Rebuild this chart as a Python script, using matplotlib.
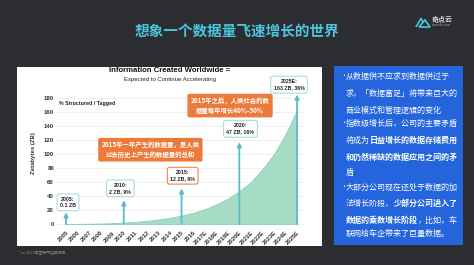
import matplotlib.pyplot as plt
from matplotlib.patches import Rectangle, Polygon

plt.rcParams['font.family'] = ['Noto Sans CJK SC', 'DejaVu Sans']

# 数据
years = ['2005', '2006', '2007', '2008', '2009', '2010', '2011', '2012', '2013',
         '2014', '2015', '2016', '2017E', '2018E', '2019E', '2020E', '2021E',
         '2022E', '2023E', '2024E', '2025E']
zb = [0.1, 0.2, 0.4, 0.7, 1.2, 2, 3, 4.5, 6.5, 9, 12, 16.1, 21, 28, 36, 47,
      60, 78, 100, 128, 163]

mark_years = ['2005', '2010', '2015', '2020E', '2025E']
mark_text = ['2005:\n0.1 ZB', '2010:\n2 ZB, 9%', '2015:\n12 ZB, 9%',
             '2020:\n47 ZB, 16%', '2025E:\n163 ZB, 36%']

note1 = '2015年之后，人类社会的数\n据量每年增长40%-50%'
note2 = '2015年一年产生的数据量，是人类\n过去历史上产生的数据量的总和'

bullets = [
    [('从数据供不应求到数据供过于', False)],
    [('求，「数据富足」将带来巨大的', False)],
    [('商业模式和管理逻辑的变化', False)],
    [('指数级增长后，公司的主要矛盾', False)],
    [('将成为', False), ('日益增长的数据存储费用', True)],
    [('和仍然稀缺的数据应用之间的矛', True)],
    [('盾', False)],
    [('大部分公司现在还处于数据的加', False)],
    [('法增长阶段，', False), ('少部分公司进入了', True)],
    [('数据的乘数增长阶段', True), ('，比如，车', False)],
    [('联网给车企带来了巨量数据。', False)],
]
bullet_rows = [0, 3, 7]

W, H = 474, 265
def fx(px):
    return px / W
def fy(py):
    return 1 - py / H

fig = plt.figure(figsize=(4.74, 2.65), dpi=100)
fig.patch.set_facecolor('#2b2d31')

# 面板
fig.patches.append(Rectangle((fx(17), fy(246)), fx(322) - fx(17), fy(67) - fy(246),
                             transform=fig.transFigure, facecolor='white', edgecolor='none', zorder=-10))
fig.patches.append(Rectangle((fx(334), fy(245)), fx(463) - fx(334), fy(66) - fy(245),
                             transform=fig.transFigure, facecolor='#2464dc', edgecolor='none', zorder=-10))

# 标题
fig.text(0.5, fy(31), '想象一个数据量飞速增长的世界', color='#4cc6dc', fontsize=10.5,
         fontweight='bold', ha='center', va='center')

# logo
fig.patches.append(Polygon([(fx(415), fy(27)), (fx(421), fy(17)), (fx(424), fy(22)),
                            (fx(422), fy(22)), (fx(421), fy(20)), (fx(417), fy(27))],
                           closed=True, transform=fig.transFigure, facecolor='#4cc6dc', edgecolor='none'))
fig.patches.append(Polygon([(fx(419), fy(27)), (fx(425), fy(20)), (fx(430), fy(27))],
                           closed=True, transform=fig.transFigure, facecolor='none',
                           edgecolor='#4cc6dc', linewidth=1.2))
fig.text(fx(432), fy(19.5), '奇点云', color='#d8d8d8', fontsize=5, va='center', fontweight='bold')
fig.text(fx(432), fy(25.5), 'startdt.com', color='#aaaaaa', fontsize=2.5, va='center')

# 主图
ax = fig.add_axes([fx(56.8), fy(226.1), fx(304) - fx(56.8), fy(80.5) - fy(226.1)])
ax.set_facecolor('none')
x = list(range(len(years)))
ax.fill_between(x, zb, 0, color='#a6dcc6', edgecolor='#8fd0b6', linewidth=0.6, zorder=2)
ax.set_xlim(-0.8, 20.6)
ax.set_ylim(-3, 205)
ax.set_yticks(range(0, 181, 20))
ax.set_xticks(x)
ax.set_xticklabels(years, rotation=45, ha='right', rotation_mode='anchor',
                   fontsize=4.2, fontweight='bold', color='#333333', family='Liberation Sans')
for lab in ax.get_yticklabels():
    lab.set_fontsize(4.3)
    lab.set_fontweight('bold')
    lab.set_color('#333333')
    lab.set_family('Liberation Sans')
ax.tick_params(length=0, pad=2)
ax.tick_params(axis='x', pad=3)
for s in ax.spines.values():
    s.set_visible(False)
for v in range(0, 181, 20):
    ax.axhline(v, color='#ececec', linewidth=0.6, zorder=1)
ax.set_ylabel('Zetabytes (ZB)', fontsize=4.3, fontweight='bold', color='#333333',
              family='Liberation Sans', labelpad=6)

# 箭头与标注
arrow_top = [17, 34, 51, 117, 185]
box_pos = [(0.17, 31), (4.7, 51), (10.1, 69), (15.1, 136), (19.3, 199)]
box_edge = ['#a9dbe3', '#a9dbe3', '#ee8a4a', '#a9dbe3', '#a9dbe3']
for yr, t, top, (bx, by), ec in zip(mark_years, mark_text, arrow_top, box_pos, box_edge):
    i = years.index(yr)
    ax.annotate('', xy=(i, top), xytext=(i, 0),
                arrowprops=dict(arrowstyle='-|>,head_length=0.25,head_width=0.12',
                                color='#5bbccb', linewidth=1.3, shrinkA=0, shrinkB=0),
                zorder=4, annotation_clip=False)
    ax.text(bx, by, t, ha='center', va='center', fontsize=3.8, fontweight='bold',
            color='#222222', family='Liberation Sans', linespacing=1.25, zorder=5, clip_on=False,
            bbox=dict(boxstyle='round,pad=0.55,rounding_size=0.4', facecolor='white',
                      edgecolor=ec, linewidth=0.8))

ax.text(14.2, 169, note1, ha='center', va='center', fontsize=4.6, fontweight='bold',
        color='white', linespacing=1.5, zorder=5,
        bbox=dict(boxstyle='round,pad=0.5,rounding_size=0.3', facecolor='#ec7b3b', edgecolor='none'))
ax.text(7.3, 106, note2, ha='center', va='center', fontsize=4.6, fontweight='bold',
        color='white', linespacing=1.5, zorder=5,
        bbox=dict(boxstyle='round,pad=0.5,rounding_size=0.3', facecolor='#ec7b3b', edgecolor='none'))

ax.text(-0.65, 172, '% Structured / Tagged', fontsize=3.8, fontweight='bold', color='#222222',
        family='Liberation Sans', va='center', ha='left')

fig.text(fx(170), fy(71), 'Information Created Worldwide =', fontsize=5.6, fontweight='bold',
         color='#111111', family='Liberation Sans', ha='center', va='center')
fig.text(fx(170), fy(80), 'Expected to Continue Accelerating', fontsize=4.3,
         color='#222222', family='Liberation Sans', ha='center', va='center')

fig.text(fx(18), fy(253), '* ex.2017年互联网趋势报告', fontsize=2.8, color='#8a8a8a', va='center')

# 右侧文字
line_y = [76, 93, 110, 123, 140, 157, 172, 187, 203, 220, 233]
renderer = fig.canvas.get_renderer()
for row, (segs, py) in enumerate(zip(bullets, line_y)):
    if row in bullet_rows:
        fig.text(fx(340), fy(py), '•', color='white', fontsize=5, va='center', ha='left')
    xpos = fx(346)
    for s, b in segs:
        t = fig.text(xpos, fy(py), s, color='white', fontsize=5.8, va='center', ha='left',
                     fontweight='bold' if b else 'normal')
        bb = t.get_window_extent(renderer)
        xpos = bb.x1 / fig.bbox.width

fig.savefig('out.png', dpi=100, facecolor=fig.get_facecolor())
